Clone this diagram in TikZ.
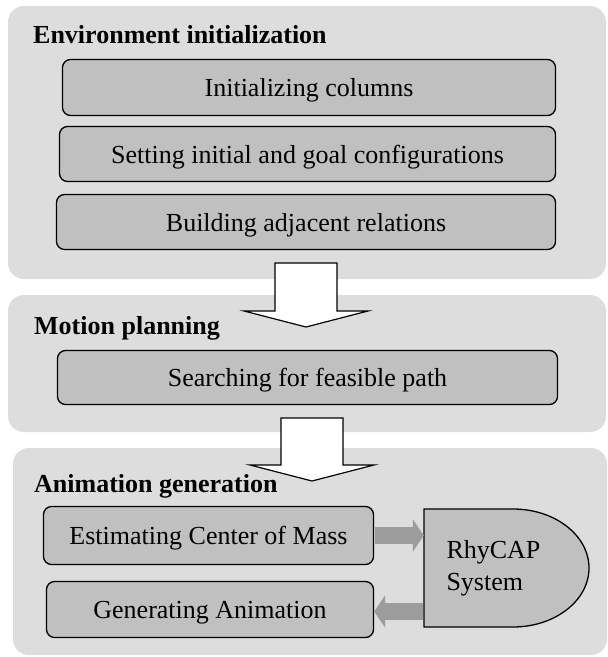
\documentclass[tikz,border=0pt]{standalone}
\usepackage{fontspec}
\setmainfont{Liberation Serif}
\usetikzlibrary{arrows.meta}

\definecolor{panelgray}{HTML}{DDDDDD}
\definecolor{boxgray}{HTML}{C0C0C0}
\definecolor{arrowgray}{HTML}{9C9C9C}

\begin{document}
\begin{tikzpicture}[x=1pt, y=-1pt,
    panel/.style={fill=panelgray, rounded corners=16pt},
    stepbox/.style={draw=black, line width=1.3pt, fill=boxgray, rounded corners=8pt,
        inner sep=0pt, text depth=0pt, font=\fontsize{26}{32}\selectfont},
    heading/.style={anchor=base west, inner sep=0pt, font=\bfseries\fontsize{26}{32}\selectfont},
    bigarrow/.style={draw=black, line width=1.2pt, fill=white},
    grayarrow/.style={draw=arrowgray, line width=17pt, shorten <=1pt,
        -{Triangle[width=32pt, length=11pt]}}]
    \useasboundingbox (0,0) rectangle (608,657);

    % three stages
    \fill[panel] (8,6) rectangle (606,279);
    \fill[panel] (8,295) rectangle (606,432);
    \fill[panel] (13,448) rectangle (607,655);

    \node[heading] (envtitle) at (33,43) {Environment initialization};
    \node[heading] (motiontitle) at (34,334) {Motion planning};
    \node[heading] (animtitle) at (34,492) {Animation generation};

    \coordinate (tip1) at (306,327);
    \coordinate (tip2) at (312,481);
    \draw[bigarrow, shift={(tip1)}] (-31,-64) -- (31,-64) -- (31,-16) -- (62,-16) -- (0,0)
        -- (-62,-16) -- (-31,-16) -- cycle;
    \draw[bigarrow, shift={(tip2)}] (-31,-63) -- (31,-63) -- (31,-16) -- (62,-16) -- (0,0)
        -- (-62,-16) -- (-31,-16) -- cycle;

    \node[stepbox, minimum width=493pt, minimum height=56pt] (initcols) at (309,87.5) {Initializing columns};
    \node[stepbox, minimum width=496pt, minimum height=55pt] (setconf) at (307.5,154) {Setting initial and goal configurations};
    \node[stepbox, minimum width=499pt, minimum height=55pt] (adjrel) at (306,222) {Building adjacent relations};
    \node[stepbox, minimum width=500pt, minimum height=54pt] (search) at (307.5,377.5) {Searching for feasible path};
    \node[stepbox, minimum width=330pt, minimum height=58pt] (est) at (208.5,535.5) {Estimating Center of Mass};
    \node[stepbox, minimum width=327pt, minimum height=56pt] (gen) at (210,609.5) {Generating Animation};

    % RhyCAP block
    \coordinate (sys) at (506.5,568);
    \filldraw[draw=black, line width=1.3pt, fill=boxgray] (424,509) -- ++(89,0)
        arc[start angle=-90, end angle=90, x radius=76, y radius=59] -- (424,627) -- cycle;
    \node[inner xsep=21pt, inner ysep=0pt, text width=120pt, align=left, minimum width=165pt,
        minimum height=118pt, font=\fontsize{26}{32}\selectfont] (rhycap) at (sys) {RhyCAP\\System};

    \draw[grayarrow] (est.east) -- (est.east -| rhycap.west);
    \draw[grayarrow] ([yshift=-2pt]gen.east -| rhycap.west) -- ([yshift=-2pt]gen.east);
\end{tikzpicture}
\end{document}
